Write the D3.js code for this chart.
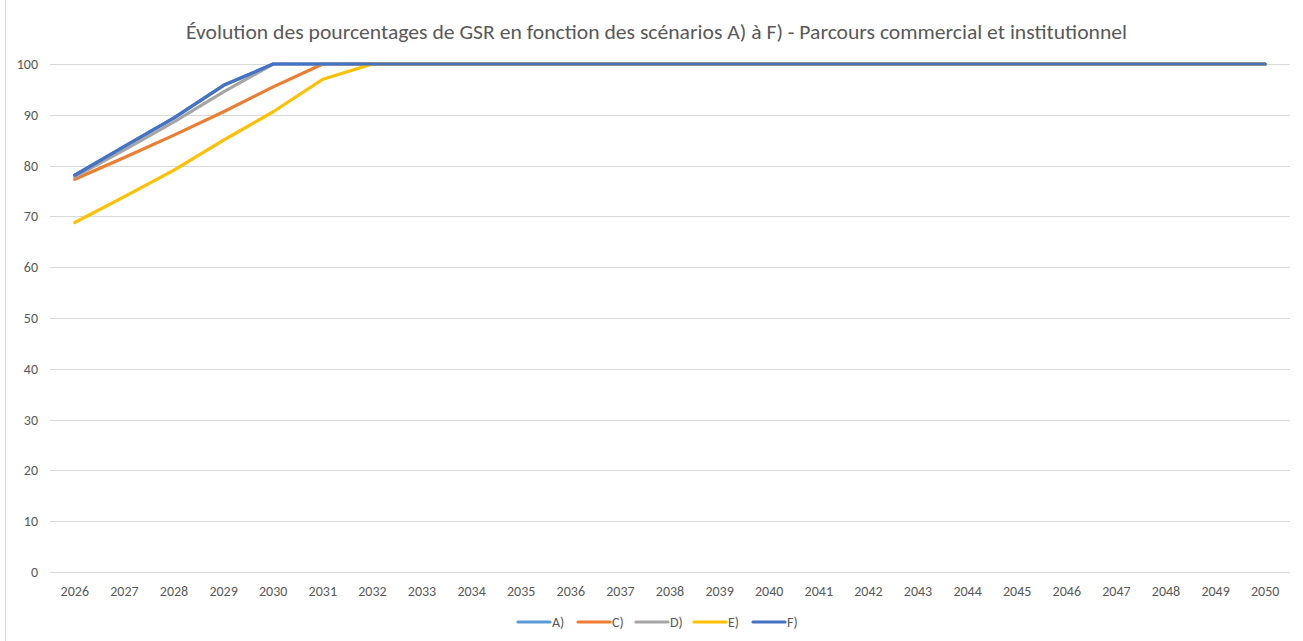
<!DOCTYPE html>
<html>
<head>
<meta charset="utf-8">
<script src="https://cdn.jsdelivr.net/npm/d3@7"></script>
<style>
body{margin:0;background:#fff;}
svg text{font-family:Calibri,Lato,"Noto Sans",sans-serif;fill:#595959;}
</style>
</head>
<body>
<div id="chart"></div>
<script>
var years=[];
for(var y=2026;y<=2050;y++){years.push(y);}
var yTicks=[0,10,20,30,40,50,60,70,80,90,100];
var seriesNames=["A)","C)","D)","E)","F)"];
var seriesColors=["#5B9BD5","#ED7D31","#A5A5A5","#FFC000","#4472C4"];
var rest=[100,100,100,100,100,100,100,100,100,100,100,100,100,100,100,100,100,100];
var valuesA=[78.1,83.8,89.4,95.8,100,100,100].concat(rest);
var valuesC=[77.3,81.6,86.0,90.6,95.5,100,100].concat(rest);
var valuesD=[77.8,83.1,88.6,94.5,100,100,100].concat(rest);
var valuesE=[68.8,73.9,79.1,85.0,90.6,97.0,100].concat(rest);
var valuesF=[78.1,83.8,89.4,95.8,100,100,100].concat(rest);
var allValues=[valuesA,valuesC,valuesD,valuesE,valuesF];

var W=1303,H=641;
var svg=d3.select("#chart").append("svg").attr("width",W).attr("height",H);

// chart border (left edge visible)
svg.append("rect").attr("x",5.5).attr("y",-2).attr("width",W+10).attr("height",H+10)
	.attr("fill","none").attr("stroke","#D9D9D9");

var x=d3.scaleBand().domain(years).range([50,1290]);
var yS=d3.scaleLinear().domain([0,100]).range([572,64]);

// gridlines
svg.append("g").selectAll("line").data(yTicks).enter().append("line")
	.attr("x1",50).attr("x2",1290)
	.attr("y1",function(d){return Math.round(yS(d))+0.5})
	.attr("y2",function(d){return Math.round(yS(d))+0.5})
	.attr("stroke","#D9D9D9").attr("stroke-width",1);

// y labels
svg.append("g").selectAll("text").data(yTicks).enter().append("text")
	.attr("x",38).attr("y",function(d){return yS(d)+5})
	.attr("text-anchor","end").style("font-size","14px")
	.text(function(d){return d});

// x labels
svg.append("g").selectAll("text").data(years).enter().append("text")
	.attr("x",function(d){return x(d)+x.bandwidth()/2})
	.attr("y",596).attr("text-anchor","middle").style("font-size","14px")
	.text(function(d){return d});

var line=d3.line()
	.x(function(d,i){return x(years[i])+x.bandwidth()/2})
	.y(function(d){return yS(d)});

svg.append("g").selectAll("path").data(allValues).enter().append("path")
	.attr("d",line).attr("fill","none")
	.attr("stroke",function(d,i){return seriesColors[i]})
	.attr("stroke-width",3.2).attr("stroke-linejoin","round").attr("stroke-linecap","round");

// title
svg.append("text").attr("x",186).attr("y",39)
	.style("font-size","21px")
	.attr("textLength",941).attr("lengthAdjust","spacingAndGlyphs")
	.text("Évolution des pourcentages de GSR en fonction des scénarios A) à F) - Parcours commercial et institutionnel");

// legend
var legendX=[518,578,636,694,753];
var legend=svg.append("g").selectAll("g").data(seriesNames).enter().append("g")
	.attr("transform",function(d,i){return "translate("+legendX[i]+",622)"});
legend.append("line").attr("x1",0).attr("x2",32).attr("y1",0).attr("y2",0)
	.attr("stroke",function(d,i){return seriesColors[i]}).attr("stroke-width",3.2).attr("stroke-linecap","round");
legend.append("text").attr("x",34).attr("y",5).style("font-size","14px").text(function(d){return d});
</script>
</body>
</html>
